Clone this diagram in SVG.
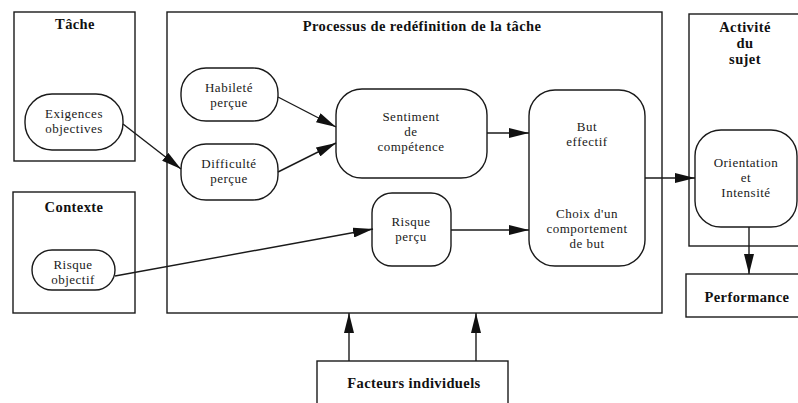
<svg xmlns="http://www.w3.org/2000/svg" width="798" height="403" viewBox="0 0 798 403">
<style>
.box{fill:none;stroke:#1a1a1a;stroke-width:1.4}
.node{fill:#fff;stroke:#1a1a1a;stroke-width:1.4}
.t{font-family:"Liberation Serif","Times New Roman",serif;font-size:13px;fill:#1a1a1a;text-anchor:middle;letter-spacing:0.5px}
.h{font-family:"Liberation Serif","Times New Roman",serif;font-size:14.5px;font-weight:bold;fill:#111;text-anchor:middle;letter-spacing:0.4px}
.c{fill:none;stroke:#1a1a1a;stroke-width:1.4}
</style>
<defs>
<marker id="ah" markerUnits="userSpaceOnUse" markerWidth="20" markerHeight="10" refX="20" refY="5" orient="auto">
<path d="M0,0 L20,5 L0,10 z" fill="#111"/>
</marker>
</defs>
<rect width="798" height="403" fill="#fff"/>

<g id="tache">
<rect class="box" x="14" y="12" width="121" height="149"/>
<text class="h" x="75" y="29">Tâche</text>
</g>
<g id="contexte">
<rect class="box" x="13" y="192" width="122" height="121"/>
<text class="h" x="74" y="212">Contexte</text>
</g>
<g id="processus">
<rect class="box" x="167" y="12" width="495" height="301"/>
<text class="h" x="422" y="31">Processus de redéfinition de la tâche</text>
</g>
<g id="activite">
<rect class="box" x="689" y="14" width="130" height="232"/>
<text class="h" x="745" y="32">Activité</text>
<text class="h" x="745" y="48">du</text>
<text class="h" x="745" y="64">sujet</text>
</g>
<g id="performance">
<rect class="box" x="686" y="274" width="130" height="43"/>
<text class="h" x="747" y="302">Performance</text>
</g>
<g id="facteurs">
<rect class="box" x="317" y="361" width="191" height="60"/>
<text class="h" x="414" y="388">Facteurs individuels</text>
</g>

<g id="exigences">
<rect class="node" x="25" y="94" width="98" height="56" rx="27"/>
<text class="t" x="74" y="118">Exigences</text>
<text class="t" x="74" y="133">objectives</text>
</g>
<g id="risque-objectif">
<rect class="node" x="32" y="250" width="83" height="40" rx="20"/>
<text class="t" x="73" y="269">Risque</text>
<text class="t" x="73" y="284">objectif</text>
</g>
<g id="habilete">
<rect class="node" x="181" y="68" width="97" height="53" rx="25"/>
<text class="t" x="229" y="92">Habileté</text>
<text class="t" x="229" y="107">perçue</text>
</g>
<g id="difficulte">
<rect class="node" x="181" y="144" width="97" height="56" rx="25"/>
<text class="t" x="229" y="168">Difficulté</text>
<text class="t" x="229" y="183">perçue</text>
</g>
<g id="sentiment">
<rect class="node" x="336" y="89" width="151" height="89" rx="26"/>
<text class="t" x="411" y="121">Sentiment</text>
<text class="t" x="411" y="136">de</text>
<text class="t" x="411" y="151">compétence</text>
</g>
<g id="risque-percu">
<rect class="node" x="372" y="193" width="79" height="73" rx="20"/>
<text class="t" x="411" y="226">Risque</text>
<text class="t" x="411" y="241">perçu</text>
</g>
<g id="but">
<rect class="node" x="529" y="90" width="116" height="176" rx="26"/>
<text class="t" x="587" y="131">But</text>
<text class="t" x="587" y="146">effectif</text>
<text class="t" x="587" y="218">Choix d'un</text>
<text class="t" x="587" y="233">comportement</text>
<text class="t" x="587" y="248">de but</text>
</g>
<g id="orientation">
<rect class="node" x="695" y="130" width="102" height="97" rx="26"/>
<text class="t" x="746" y="167">Orientation</text>
<text class="t" x="746" y="182">et</text>
<text class="t" x="746" y="197">Intensité</text>
</g>

<g id="connectors">
<line class="c" x1="123" y1="124" x2="181" y2="169" marker-end="url(#ah)"/>
<line class="c" x1="278" y1="97" x2="336" y2="127" marker-end="url(#ah)"/>
<line class="c" x1="278" y1="172" x2="336" y2="143" marker-end="url(#ah)"/>
<line class="c" x1="115" y1="276" x2="373" y2="229" marker-end="url(#ah)"/>
<line class="c" x1="487" y1="133" x2="529" y2="133" marker-end="url(#ah)"/>
<line class="c" x1="451" y1="230" x2="529" y2="230" marker-end="url(#ah)"/>
<line class="c" x1="645" y1="178" x2="695" y2="178" marker-end="url(#ah)"/>
<line class="c" x1="749" y1="227" x2="749" y2="274" marker-end="url(#ah)"/>
<line class="c" x1="349" y1="361" x2="349" y2="313" marker-end="url(#ah)"/>
<line class="c" x1="476" y1="361" x2="476" y2="313" marker-end="url(#ah)"/>
</g>
</svg>
